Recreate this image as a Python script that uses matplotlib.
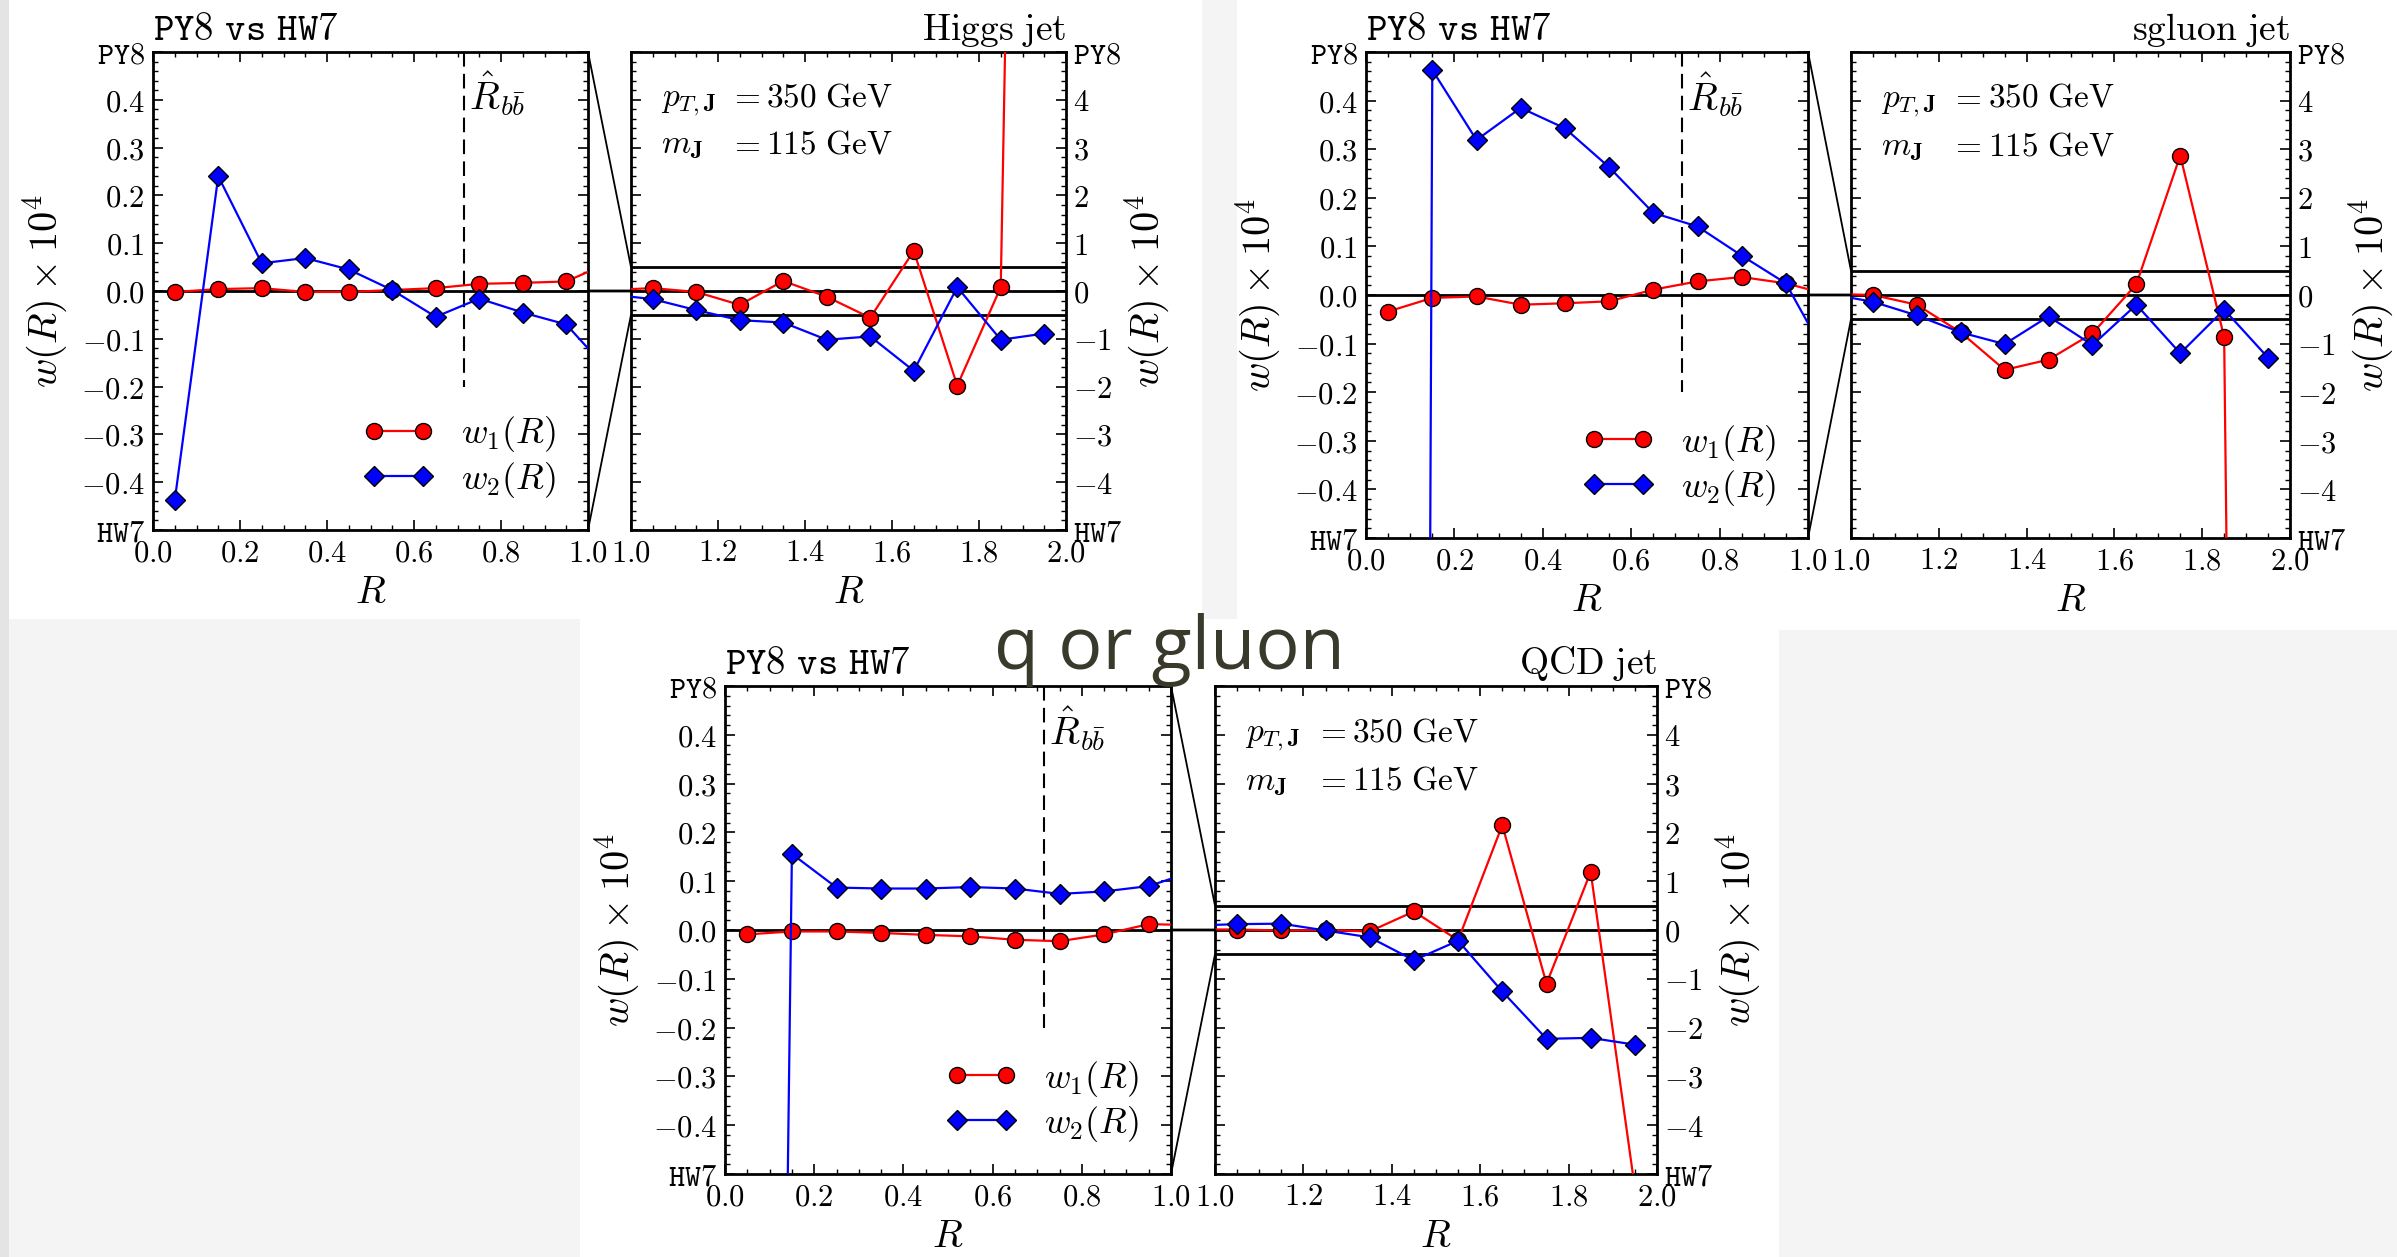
import matplotlib
matplotlib.use("Agg")
import matplotlib.pyplot as plt
from matplotlib.patches import Rectangle, ConnectionPatch
from matplotlib.ticker import MultipleLocator, FixedLocator, FixedFormatter
from matplotlib.lines import Line2D

plt.rcParams['mathtext.fontset'] = 'cm'
plt.rcParams['font.family'] = ['DejaVu Sans']

W, H = 2397, 1257

# bin centres in R
R = [0.05, 0.15, 0.25, 0.35, 0.45, 0.55, 0.65, 0.75, 0.85, 0.95,
     1.05, 1.15, 1.25, 1.35, 1.45, 1.55, 1.65, 1.75, 1.85, 1.95]

# w(R) x 10^4
higgs_w1 = [-0.002, 0.004, 0.006, -0.002, -0.002, 0.002, 0.006, 0.015, 0.017, 0.020,
            0.06, -0.02, -0.29, 0.21, -0.12, -0.56, 0.84, -1.98, 0.08, 50.0]
higgs_w2 = [-0.438, 0.240, 0.058, 0.069, 0.045, 0.002, -0.054, -0.016, -0.045, -0.070,
            -0.17, -0.40, -0.61, -0.66, -1.02, -0.95, -1.67, 0.08, -1.02, -0.89]

sgluon_w1 = [-0.034, -0.006, -0.003, -0.020, -0.017, -0.013, 0.011, 0.028, 0.037, 0.024,
             0.0, -0.20, -0.77, -1.54, -1.33, -0.79, 0.22, 2.87, -0.87, -80.0]
sgluon_w2 = [-20.0, 0.463, 0.319, 0.385, 0.343, 0.263, 0.169, 0.141, 0.081, 0.024,
             -0.14, -0.42, -0.77, -1.01, -0.44, -1.03, -0.20, -1.20, -0.30, -1.29]

qcd_w1 = [-0.009, -0.003, -0.003, -0.006, -0.010, -0.013, -0.020, -0.023, -0.009, 0.012,
          0.01, -0.01, 0.0, -0.03, 0.38, -0.21, 2.15, -1.10, 1.19, -5.3]
qcd_w2 = [-7.0, 0.156, 0.087, 0.085, 0.085, 0.088, 0.085, 0.074, 0.079, 0.090,
          0.12, 0.13, -0.01, -0.15, -0.62, -0.22, -1.26, -2.23, -2.21, -2.35]

R_bb = 0.715

# tick labels
left_yticks = [-0.5, -0.4, -0.3, -0.2, -0.1, 0.0, 0.1, 0.2, 0.3, 0.4, 0.5]
left_ylabels = [r'$\mathtt{HW7}$', r'$-0.4$', r'$-0.3$', r'$-0.2$', r'$-0.1$', r'$0.0$',
                r'$0.1$', r'$0.2$', r'$0.3$', r'$0.4$', r'$\mathtt{PY8}$']
right_yticks = [-5, -4, -3, -2, -1, 0, 1, 2, 3, 4, 5]
right_ylabels = [r'$\mathtt{HW7}$', r'$-4$', r'$-3$', r'$-2$', r'$-1$', r'$0$',
                 r'$1$', r'$2$', r'$3$', r'$4$', r'$\mathtt{PY8}$']
left_xticks = [0.0, 0.2, 0.4, 0.6, 0.8, 1.0]
left_xlabels = [r'$0.0$', r'$0.2$', r'$0.4$', r'$0.6$', r'$0.8$', r'$1.0$']
right_xticks = [1.0, 1.2, 1.4, 1.6, 1.8, 2.0]
right_xlabels = [r'$1.0$', r'$1.2$', r'$1.4$', r'$1.6$', r'$1.8$', r'$2.0$']

fig = plt.figure(figsize=(W / 100, H / 100), dpi=100)
fig.patch.set_facecolor('#f4f4f4')


def px_rect(x0, y0, x1, y1, color):
    fig.add_artist(Rectangle((x0 / W, 1 - y1 / H), (x1 - x0) / W, (y1 - y0) / H,
                             transform=fig.transFigure, facecolor=color,
                             edgecolor='none', zorder=-10))


px_rect(0, 0, 9, H, '#e4e4e4')
px_rect(9, 0, 1202, 619, 'white')
px_rect(1237, 0, W, 630, 'white')
px_rect(580, 619, 1779, H, 'white')


def px_axes(x0, x1, y0, y1):
    return fig.add_axes([x0 / W, 1 - y1 / H, (x1 - x0) / W, (y1 - y0) / H])


def style(ax):
    for s in ax.spines.values():
        s.set_linewidth(2)
    ax.tick_params(which='both', direction='in', top=True, bottom=True,
                   left=True, right=True, labelsize=22, pad=6)
    ax.tick_params(which='major', length=7.5, width=1.2)
    ax.tick_params(which='minor', length=3.8, width=1.0)


def draw(box_l, box_r, w1, w2, jet):
    ax_l = px_axes(*box_l)
    ax_r = px_axes(*box_r)
    for ax in (ax_l, ax_r):
        ax.plot(R, w1, color='red', lw=1.6, marker='o', ms=11.5, mec='k', mew=1,
                zorder=4)
        ax.plot(R, w2, color='blue', lw=1.6, marker='D', ms=10.5, mec='k', mew=1,
                zorder=4)
        style(ax)

    ax_l.set_xlim(0, 1)
    ax_l.set_ylim(-0.5, 0.5)
    ax_l.axhline(0, color='k', lw=2, zorder=2)
    ax_l.plot([R_bb, R_bb], [0.5, -0.2], color='k', lw=1.5, ls=(0, (7, 3.5)))
    ax_l.text(R_bb + 0.012, 0.38, r'$\hat{R}_{b\bar{b}}$', fontsize=28,
              ha='left', va='baseline')
    ax_l.xaxis.set_major_locator(FixedLocator(left_xticks))
    ax_l.xaxis.set_major_formatter(FixedFormatter(left_xlabels))
    ax_l.yaxis.set_major_locator(FixedLocator(left_yticks))
    ax_l.yaxis.set_major_formatter(FixedFormatter(left_ylabels))
    ax_l.xaxis.set_minor_locator(MultipleLocator(0.05))
    ax_l.yaxis.set_minor_locator(MultipleLocator(0.02))
    ax_l.set_xlabel(r'$R$', fontsize=28, labelpad=4)
    ax_l.set_ylabel(r'$w(R)\times10^4$', fontsize=29, labelpad=8)

    handles = [Line2D([], [], color='red', lw=1.6, marker='o', ms=11.5, mec='k', mew=1),
               Line2D([], [], color='blue', lw=1.6, marker='D', ms=10.5, mec='k', mew=1)]
    ax_l.legend(handles, [r'$w_1(R)$', r'$w_2(R)$'], loc='lower right',
                bbox_to_anchor=(1.0, -0.005), frameon=False, numpoints=2,
                fontsize=26, handlelength=1.95, handletextpad=0.75, labelspacing=0.15)

    ax_l.text(0.0, 1.025, r'$\mathtt{PY8\ vs\ HW7}$', transform=ax_l.transAxes,
              fontsize=28, ha='left', va='baseline')

    ax_r.set_xlim(1, 2)
    ax_r.set_ylim(-5, 5)
    for y in (0.5, 0.0, -0.5):
        ax_r.axhline(y, color='k', lw=2, zorder=2)
    ax_r.xaxis.set_major_locator(FixedLocator(right_xticks))
    ax_r.xaxis.set_major_formatter(FixedFormatter(right_xlabels))
    ax_r.yaxis.set_major_locator(FixedLocator(right_yticks))
    ax_r.yaxis.set_major_formatter(FixedFormatter(right_ylabels))
    ax_r.xaxis.set_minor_locator(MultipleLocator(0.05))
    ax_r.yaxis.set_minor_locator(MultipleLocator(0.2))
    ax_r.tick_params(axis='y', labelleft=False, labelright=True, pad=5)
    ax_r.yaxis.set_label_position('right')
    ax_r.set_xlabel(r'$R$', fontsize=28, labelpad=4)
    ax_r.set_ylabel(r'$w(R)\times10^4$', fontsize=29, labelpad=0)
    ax_r.text(1.0, 1.025, r'$\mathrm{' + jet.replace(' ', r'\ ') + '}$',
              transform=ax_r.transAxes, fontsize=27, ha='right', va='baseline')

    ax_r.text(0.069, 0.887, r'$p_{T,\mathbf{J}}$', transform=ax_r.transAxes,
              fontsize=24, ha='left', va='baseline')
    ax_r.text(0.069, 0.787, r'$m_{\mathbf{J}}$', transform=ax_r.transAxes,
              fontsize=24, ha='left', va='baseline')
    for yy, val in ((0.887, '350'), (0.787, '115')):
        ax_r.text(0.262, yy, r'$=$', transform=ax_r.transAxes,
                  fontsize=24, ha='center', va='baseline')
        ax_r.text(0.311, yy, r'$' + val + r'\ \mathrm{GeV}$', transform=ax_r.transAxes,
                  fontsize=24, ha='left', va='baseline')

    # zoom connectors between the two panels
    for y, lw in ((0.5, 1.3), (-0.5, 1.3), (0.0, 2)):
        cp = ConnectionPatch(xyA=(1.0, y), coordsA=ax_l.transData,
                             xyB=(1.0, y), coordsB=ax_r.transData,
                             color='k', lw=lw)
        fig.add_artist(cp)


draw((153, 588, 52, 530), (631, 1066, 52, 530), higgs_w1, higgs_w2, 'Higgs jet')
draw((1366, 1808, 52, 538), (1851, 2290, 52, 538), sgluon_w1, sgluon_w2, 'sgluon jet')
draw((725, 1171, 686, 1174), (1215, 1657, 686, 1174), qcd_w1, qcd_w2, 'QCD jet')

fig.text(1169 / W, 1 - 669 / H, 'q or gluon', ha='center', va='baseline',
         fontsize=53, family=['Open Sans', 'DejaVu Sans'], color='#3a3a2c', zorder=20)

fig.savefig('out.png', dpi=100, facecolor=fig.get_facecolor())
